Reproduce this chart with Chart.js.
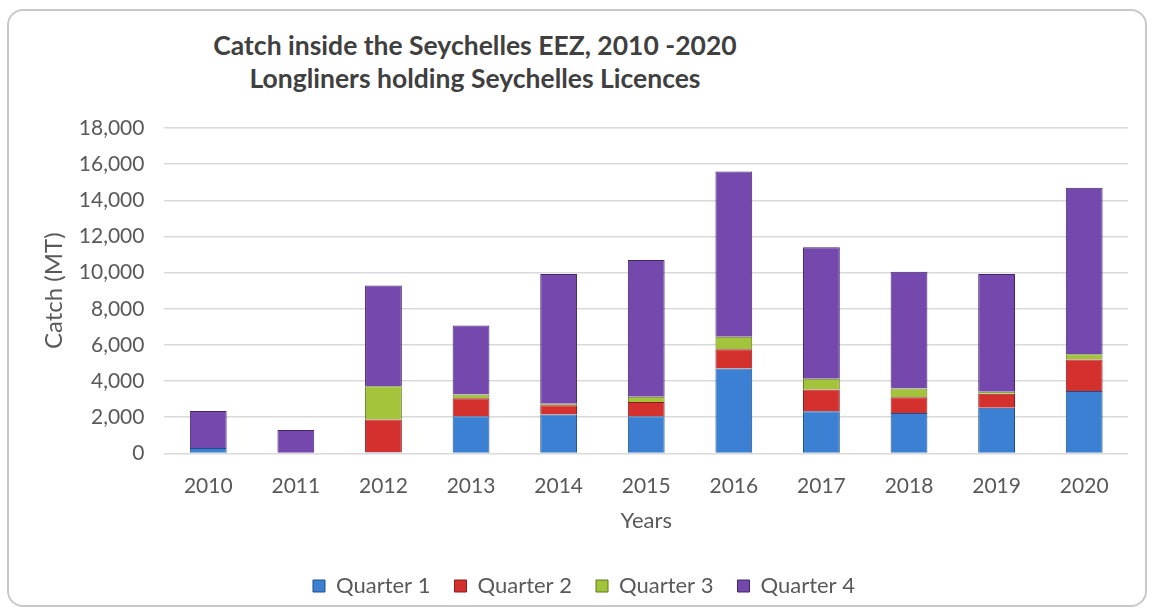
<!DOCTYPE html>
<html>
<head>
<meta charset="utf-8">
<script src="https://cdn.jsdelivr.net/npm/chart.js@4.4.1/dist/chart.umd.min.js"></script>
<style>
  html,body{margin:0;padding:0;background:#ffffff;}
  #wrap{position:relative;width:1156px;height:613px;overflow:hidden;background:#fff;}
  #frame{position:absolute;left:7px;top:9px;width:1140px;height:598px;border:2px solid #c8c8c8;border-radius:16px;box-sizing:border-box;background:#fff;}
  #title{position:absolute;left:120px;width:710px;top:29px;text-align:center;font-family:Lato,"Open Sans",sans-serif;font-weight:bold;font-size:26.5px;line-height:33px;color:#404040;}
  #c{position:absolute;left:0;top:0;}
</style>
</head>
<body>
<div id="wrap">
  <div id="frame"></div>
  <div id="title">Catch inside the Seychelles EEZ, 2010 -2020<br>Longliners holding Seychelles Licences</div>
  <canvas id="c" width="1156" height="613"></canvas>
</div>
<script>
const years = ["2010","2011","2012","2013","2014","2015","2016","2017","2018","2019","2020"];
const quarter1 = [300, 0, 70, 2050, 2150, 2050, 4700, 2330, 2240, 2520, 3450];
const quarter2 = [0, 0, 1800, 1000, 520, 800, 1060, 1200, 870, 780, 1750];
const quarter3 = [0, 0, 1850, 210, 70, 280, 690, 600, 480, 110, 280];
const quarter4 = [2050, 1300, 5570, 3810, 7190, 7570, 9150, 7270, 6460, 6520, 9220];
const seriesNames = ["Quarter 1","Quarter 2","Quarter 3","Quarter 4"];
const yTicksMax = 18000;
const yTickStep = 2000;

const fill = ["#3b80d3","#d4302e","#a3c43a","#7548ad"];
const edge = ["#1f4f8a","#8a1c1c","#5f7a1c","#43266a"];

function makeGrad(i){
  return function(ctx){
    const chart = ctx.chart;
    const el = ctx.element;
    if(!el || !chart.chartArea) return fill[i];
    const w = el.width;
    if(!isFinite(el.x) || !isFinite(w) || w <= 0) return fill[i];
    const x0 = el.x - w/2, x1 = el.x + w/2;
    const g = chart.ctx.createLinearGradient(x0,0,x1,0);
    g.addColorStop(0, edge[i]);
    g.addColorStop(0.12, fill[i]);
    g.addColorStop(0.88, fill[i]);
    g.addColorStop(1, edge[i]);
    return g;
  };
}

const dataArrays = [quarter1, quarter2, quarter3, quarter4];
const datasets = dataArrays.map((arr,i)=>({
  label: seriesNames[i],
  data: arr,
  backgroundColor: makeGrad(i),
  borderColor: edge[i],
  borderWidth: 1,
  barPercentage: 0.42,
  categoryPercentage: 1.0
}));

const FONT = "Lato, 'Open Sans', sans-serif";
const TXT = '#595959';

new Chart(document.getElementById('c'), {
  type: 'bar',
  data: { labels: years, datasets: datasets },
  options: {
    responsive: false,
    animation: false,
    layout: { padding: { top: 128, left: 40, right: 28, bottom: 6 } },
    plugins: {
      title: { display: false },
      tooltip: { enabled: false },
      legend: {
        position: 'bottom',
        labels: {
          font: { family: FONT, size: 22 },
          color: TXT,
          boxWidth: 12,
          boxHeight: 12,
          padding: 24,
          generateLabels: function(chart){
            return seriesNames.map((n,i)=>({
              text: n, fillStyle: fill[i], strokeStyle: edge[i], lineWidth: 1,
              datasetIndex: i, hidden: false, fontColor: TXT
            }));
          }
        }
      }
    },
    scales: {
      x: {
        stacked: true,
        grid: { display: false, drawTicks: false },
        border: { display: false },
        ticks: { font: { family: FONT, size: 21 }, color: TXT, padding: 20 },
        title: { display: true, text: 'Years', font: { family: FONT, size: 22 }, color: TXT, padding: { top: -11, bottom: 17 } }
      },
      y: {
        stacked: true,
        min: 0,
        max: yTicksMax,
        grid: { color: '#d9d9d9', lineWidth: 1.5, drawTicks: false },
        border: { display: false },
        ticks: {
          stepSize: yTickStep,
          font: { family: FONT, size: 21 },
          color: TXT,
          padding: 20,
          callback: v => v.toLocaleString('en-US')
        },
        title: { display: true, text: 'Catch (MT)', font: { family: FONT, size: 24 }, color: TXT, padding: { top: 0, bottom: -10 } }
      }
    }
  }
});
</script>
</body>
</html>
